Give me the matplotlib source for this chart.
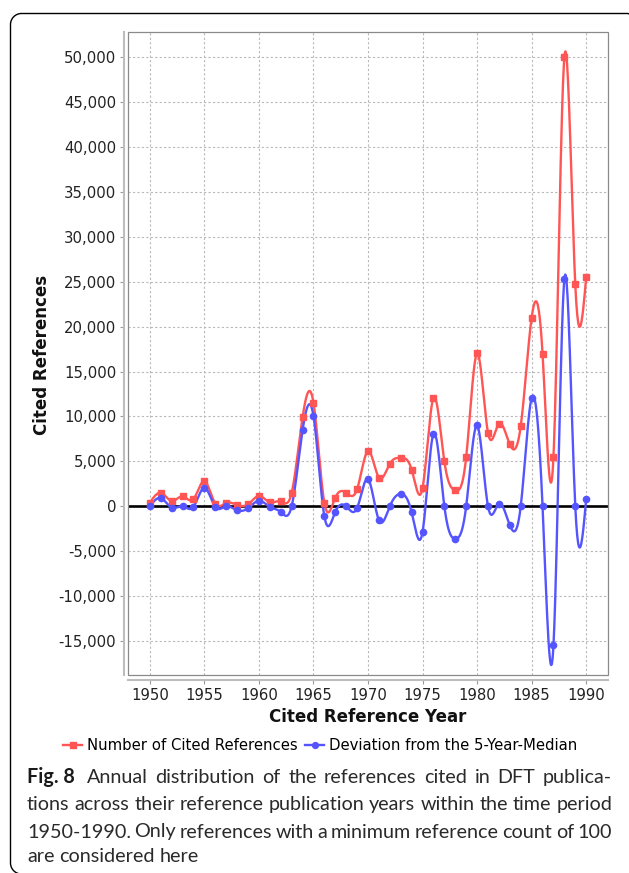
import numpy as np
import matplotlib
matplotlib.use("Agg")
import matplotlib.pyplot as plt
from matplotlib.patches import Rectangle, PathPatch
from matplotlib.path import Path
from matplotlib.lines import Line2D
from matplotlib.ticker import FuncFormatter

plt.rcParams["font.family"] = ["DejaVu Sans"]

# ---------------- data ----------------
years = list(range(1950, 1991))
cited = [400, 1500, 600, 1100, 800, 2800, 300, 370, 150, 220,
         1150, 450, 550, 1480, 9900, 11550, 370, 960, 1500, 1900,
         6150, 3200, 4740, 5400, 4070, 2040, 12070, 5000, 1780, 5480,
         17040, 8190, 9190, 6890, 8930, 21000, 17000, 5500, 50000, 24700,
         25500]
deviation = [0, 925, -150, 0, -70, 2070, -70, 0, -440, -220,
             630, -70, -630, 0, 8440, 10070, -1110, -630, 0, -200,
             3040, -1550, 0, 1400, -670, -2850, 8070, 0, -3630, 0,
             9000, 0, 300, -2110, 0, 12070, 0, -15500, 25300, 0,
             800]
x_ticks = list(range(1950, 1995, 5))
y_ticks = list(range(-15000, 55000, 5000))
series_labels = ["Number of Cited References", "Deviation from the 5-Year-Median"]
x_label = "Cited Reference Year"
y_label = "Cited References"
caption_bold = "Fig. 8"
caption_lines = [
    "Annual distribution of the references cited in DFT publica-",
    "tions across their reference publication years within the time period",
    "1950-1990. Only references with a minimum reference count of 100",
    "are considered here",
]

RED = "#ff5555"
BLUE = "#5555ff"


def natural_spline(x, y, n=24):
    x = np.asarray(x, float)
    y = np.asarray(y, float)
    h = np.diff(x)
    N = len(x)
    A = np.zeros((N - 2, N - 2))
    r = np.zeros(N - 2)
    for i in range(N - 2):
        A[i, i] = 2 * (h[i] + h[i + 1])
        if i + 1 < N - 2:
            A[i, i + 1] = h[i + 1]
            A[i + 1, i] = h[i + 1]
        r[i] = 6 * ((y[i + 2] - y[i + 1]) / h[i + 1] - (y[i + 1] - y[i]) / h[i])
    M = np.zeros(N)
    M[1:-1] = np.linalg.solve(A, r)
    xs, ys = [], []
    for i in range(N - 1):
        t = np.linspace(x[i], x[i + 1], n, endpoint=(i == N - 2))
        a = x[i + 1] - t
        b = t - x[i]
        s = (M[i] * a ** 3 + M[i + 1] * b ** 3) / (6 * h[i]) \
            + (y[i] / h[i] - M[i] * h[i] / 6) * a \
            + (y[i + 1] / h[i] - M[i + 1] * h[i] / 6) * b
        xs.append(t)
        ys.append(s)
    return np.concatenate(xs), np.concatenate(ys)


W, H = 629, 873
fig = plt.figure(figsize=(W / 100, H / 100), dpi=100)

# frame: top and left edges with rounded corners (figure pixel coords, y down)
def P(x, y):
    return (x / W, 1 - y / H)

r = 11
xl, yt, xr, yb = 10.5, 13.5, 628.0, 874.0
k = 0.5523 * r
verts = [P(xr + 6, yt + 3), P(xr, yt), P(xl + r, yt),
         P(xl + r - k, yt), P(xl, yt + r - k), P(xl, yt + r),
         P(xl, yb - r),
         P(xl, yb - r + k), P(xl + r - k, yb), P(xl + r, yb)]
codes = [Path.MOVETO, Path.LINETO, Path.LINETO,
         Path.CURVE4, Path.CURVE4, Path.CURVE4,
         Path.LINETO,
         Path.CURVE4, Path.CURVE4, Path.CURVE4]
fig.patches.append(PathPatch(Path(verts, codes), transform=fig.transFigure,
                             fill=False, edgecolor="black", linewidth=1.0))

left, right, top, bottom = 128, 608, 32, 675
ax = fig.add_axes([left / W, 1 - bottom / H, (right - left) / W, (bottom - top) / H])

ax.set_xlim(1948, 1992)
ax.set_ylim(-18790, 52820)

ax.set_xticks(x_ticks)
ax.set_yticks(y_ticks)
ax.grid(True, color="#b8b8b8", linestyle=(0, (2, 2)), linewidth=0.8)
ax.set_axisbelow(True)

ax.axhline(0, color="black", linewidth=1.9, zorder=2)

sx, sy = natural_spline(years, cited)
ax.plot(sx, sy, color=RED, linewidth=1.7, zorder=3)
ax.plot(years, cited, linestyle="none", marker="s", markersize=4.3, color=RED, zorder=4)
bx, by = natural_spline(years, deviation)
ax.plot(bx, by, color=BLUE, linewidth=1.7, zorder=3)
ax.plot(years, deviation, linestyle="none", marker="o", markersize=4.5, color=BLUE, zorder=4)

for s in ["top", "right"]:
    ax.spines[s].set_visible(False)
ax.spines["left"].set_position(("outward", 3))
ax.spines["bottom"].set_position(("outward", 3.5))
for s in ["left", "bottom"]:
    ax.spines[s].set_color("#bdbdbd")
    ax.spines[s].set_linewidth(1.5)
ax.add_patch(Rectangle((0, 0), 1, 1, transform=ax.transAxes, fill=False,
                       edgecolor="#8a8a8a", linewidth=0.9, clip_on=False, zorder=5))

ax.yaxis.set_major_formatter(FuncFormatter(lambda v, p: f"{int(v):,}"))
ax.tick_params(axis="both", colors="#9a9a9a", labelcolor="#222222", labelsize=10.7,
               length=3, width=0.8, direction="out")
ax.tick_params(axis="y", pad=2.5)
ax.tick_params(axis="x", pad=2.5)

ax.set_xlabel(x_label, fontsize=12, fontweight="bold", color="#111111", labelpad=4)
fig.text(42 / W, 1 - 355 / H, y_label, rotation=90, fontsize=12, fontweight="bold",
         color="#111111", ha="center", va="center")

handles = [Line2D([0], [0], color=RED, marker="s", markersize=4, linewidth=1.7),
           Line2D([0], [0], color=BLUE, marker="o", markersize=4.2, linewidth=1.7)]
fig.legend(handles, series_labels, loc="center", bbox_to_anchor=(320 / W, 1 - 746 / H),
           ncol=2, frameon=False, fontsize=10.7, handlelength=1.3, handletextpad=0.3,
           columnspacing=0.5, borderpad=0)

# ---------------- caption (justified) ----------------
renderer = fig.canvas.get_renderer()
cap_family = ["Lato", "DejaVu Sans"]
x_left, x_right = 27, 612
line_w = x_right - x_left


def text_w(s, size, weight="normal"):
    t = fig.text(0, 0, s, fontsize=size, fontweight=weight, family=cap_family)
    w = t.get_window_extent(renderer).width
    t.remove()
    return w


base = 12.0
cap_size = base * line_w / text_w(caption_lines[1], base)
space = text_w("a a", cap_size) - text_w("aa", cap_size)

baselines = [783, 810, 837.5, 862]


def place_line(tokens, baseline, justify):
    widths = [text_w(t, cap_size, wt) for t, wt, _ in tokens]
    gaps = [g * space for _, _, g in tokens[:-1]]
    extra = 0.0
    if justify and len(tokens) > 1:
        extra = (line_w - sum(widths) - sum(gaps)) / (len(tokens) - 1)
    x = x_left
    for i, (t, wt, _) in enumerate(tokens):
        fig.text(x / W, 1 - baseline / H, t, fontsize=cap_size, fontweight=wt,
                 family=cap_family, va="baseline", ha="left",
                 color="#1a1a1a" if wt == "bold" else "#2a2a2a")
        if i < len(tokens) - 1:
            x += widths[i] + gaps[i] + extra


tokens0 = [(caption_bold, "bold", 2)] + [(w, "normal", 1) for w in caption_lines[0].split(" ")]
place_line(tokens0, baselines[0], True)
for line, b, just in zip(caption_lines[1:], baselines[1:], [True, True, False]):
    place_line([(w, "normal", 1) for w in line.split(" ")], b, just)

fig.savefig("out.png", dpi=100)
